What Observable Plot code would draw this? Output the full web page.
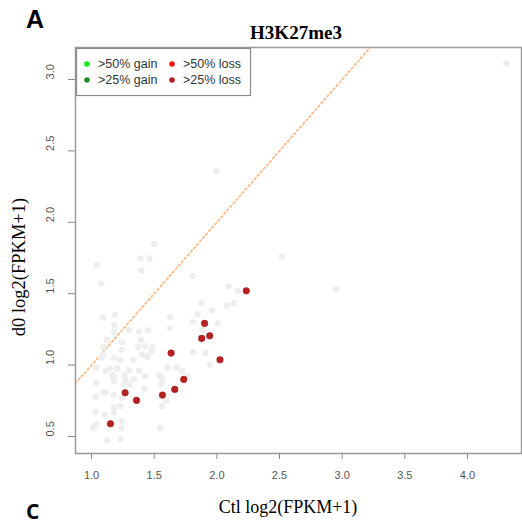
<!DOCTYPE html>
<html>
<head>
<meta charset="utf-8">
<script src="https://cdn.jsdelivr.net/npm/d3@7"></script>
<script src="https://cdn.jsdelivr.net/npm/@observablehq/plot@0.6"></script>
<style>
  html, body { margin: 0; padding: 0; background: #fff; }
  #fig { position: relative; width: 522px; height: 525px; overflow: hidden; background: #fff; }
  #fig > svg { position: absolute; left: 0; top: 0; }
</style>
</head>
<body>
<div id="fig"></div>
<script>
// Genes that changed less than the cut-offs (light grey background cloud)
const grayX = [1.390,1.462,1.045,1.398,1.077,1.807,2.094,2.166,2.134,2.081,1.876,1.961,1.845,1.090,1.186,1.183,1.624,2.006,1.810,1.892,1.627,1.298,1.380,1.449,1.178,1.120,1.244,1.393,1.093,1.090,1.239,1.372,1.425,1.486,1.805,1.911,1.077,1.181,1.335,1.404,1.446,1.478,1.231,1.943,1.608,1.677,1.725,1.040,1.146,1.205,1.300,1.263,1.380,1.112,1.178,1.271,1.337,1.425,1.539,1.563,1.767,1.037,1.165,1.178,1.258,1.305,1.422,1.032,1.090,1.112,1.178,1.239,1.558,1.598,1.563,1.231,1.178,1.032,1.106,1.178,1.239,1.037,1.013,1.239,1.550,1.231,1.125,1.996,2.520,2.950,4.310,1.500];
const grayY = [1.747,1.747,1.700,1.663,1.572,1.625,1.553,1.518,1.434,1.418,1.434,1.385,1.355,1.334,1.352,1.282,1.336,1.292,1.301,1.247,1.259,1.245,1.236,1.243,1.233,1.177,1.161,1.177,1.126,1.072,1.105,1.128,1.133,1.126,1.091,1.086,1.051,1.051,1.037,1.075,1.058,1.098,1.035,1.002,0.981,0.981,0.956,0.981,0.977,0.977,0.965,0.930,0.963,0.958,0.916,0.900,0.902,0.923,0.930,0.907,0.923,0.874,0.930,0.888,0.865,0.865,0.837,0.781,0.809,0.809,0.790,0.771,0.869,0.753,0.713,0.713,0.701,0.673,0.655,0.666,0.608,0.585,0.561,0.561,0.561,0.480,0.473,2.360,1.760,1.530,3.110,1.847];

// Genes with >25% loss of H3K27me3
const lossX = [2.235,1.902,1.879,1.943,1.635,2.025,1.736,1.664,1.566,1.268,1.359,1.151];
const lossY = [1.520,1.292,1.187,1.205,1.084,1.037,0.900,0.830,0.790,0.806,0.753,0.589];

// Axes
const xDomain = [0.872, 4.431];
const yDomain = [0.381, 3.224];
const xTicks = [1.0, 1.5, 2.0, 2.5, 3.0, 3.5, 4.0];
const yTicks = [0.5, 1.0, 1.5, 2.0, 2.5, 3.0];

// Legend
const legendLabels = [">50% gain", ">50% loss", ">25% gain", ">25% loss"];
const legendColors = ["#11ee11", "#ff1010", "#2a8a2a", "#b22222"];

const gray = grayX.map((x, i) => ({x, y: grayY[i]}));
const loss = lossX.map((x, i) => ({x, y: lossY[i]}));

const fmt = d3.format(".1f");

const chart = Plot.plot({
  width: 522,
  height: 525,
  marginLeft: 75,
  marginRight: 1,
  marginTop: 47,
  marginBottom: 72,
  x: {domain: xDomain, axis: null},
  y: {domain: yDomain, axis: null},
  style: {fontFamily: "'Liberation Sans', Arial, sans-serif", background: "white"},
  marks: [
    // y = x reference line
    Plot.line(xDomain, {x: d => d, y: d => d, stroke: "#fcbb88", strokeWidth: 1.8, strokeDasharray: "1.8,2.8", clip: true}),
    Plot.dot(gray, {x: "x", y: "y", r: 3.2, fill: "#eeeeee"}),
    Plot.dot(loss, {x: "x", y: "y", r: 3.3, fill: "#b52020", stroke: "#9c1a1a", strokeWidth: 0.5}),
    Plot.frame({stroke: "#9a9a9a", strokeWidth: 1.5}),
    Plot.axisX({ticks: xTicks, tickSize: 6, tickPadding: 12, tickFormat: fmt, label: null, stroke: "#888", fill: "#555", fontSize: 11}),
    Plot.axisY({ticks: yTicks, tickSize: 7, tickFormat: () => "", label: null, stroke: "#888"}),
    Plot.text(yTicks, {y: d => d, text: d => fmt(d), frameAnchor: "left", dx: -25, rotate: -90, fill: "#555", fontSize: 11})
  ]
});

const fig = document.getElementById("fig");
fig.appendChild(chart);

// Panel letters, title, axis titles and legend
const ann = d3.select(fig).append("svg")
  .attr("width", 522).attr("height", 525);

ann.append("text").attr("x", 26).attr("y", 28)
  .attr("font-family", "'Liberation Sans', Arial, sans-serif").attr("font-weight", "bold")
  .attr("font-size", 25).text("A");

ann.append("text").attr("x", 26).attr("y", 519)
  .attr("font-family", "'Open Sans', 'Liberation Sans', sans-serif").attr("font-weight", "bold")
  .attr("font-size", 21).text("C");

ann.append("text").attr("x", 296).attr("y", 39).attr("text-anchor", "middle")
  .attr("font-family", "'Liberation Serif', 'Times New Roman', serif").attr("font-weight", "bold")
  .attr("font-size", 19).text("H3K27me3");

ann.append("text").attr("x", 288).attr("y", 513).attr("text-anchor", "middle")
  .attr("font-family", "'Liberation Serif', 'Times New Roman', serif")
  .attr("font-size", 18).text("Ctl log2(FPKM+1)");

ann.append("text").attr("transform", "translate(25,267) rotate(-90)").attr("text-anchor", "middle")
  .attr("font-family", "'Liberation Serif', 'Times New Roman', serif")
  .attr("font-size", 18.5).text("d0 log2(FPKM+1)");

const leg = ann.append("g").attr("transform", "translate(76.5,48.5)");
leg.append("rect").attr("width", 174).attr("height", 47)
  .attr("fill", "white").attr("stroke", "#8a8a8a").attr("stroke-width", 1.2);
legendLabels.forEach((label, i) => {
  const col = i % 2, row = Math.floor(i / 2);
  const g = leg.append("g").attr("transform", `translate(${10.5 + col * 85},${15.5 + row * 16})`);
  g.append("circle").attr("r", 2.8).attr("fill", legendColors[i]);
  g.append("text").attr("x", 11).attr("dy", "0.35em")
    .attr("font-family", "'Liberation Sans', Arial, sans-serif").attr("font-size", 12.5)
    .attr("fill", "#333").text(label);
});
</script>
</body>
</html>
